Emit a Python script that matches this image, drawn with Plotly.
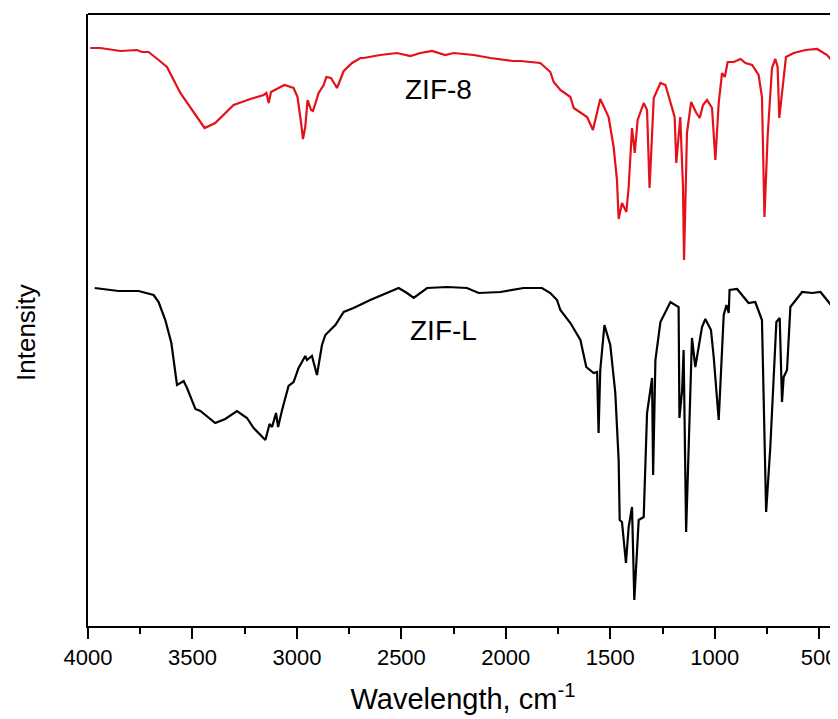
import plotly.graph_objects as go

# ZIF-8 (red) spectrum: wavenumber (cm-1) and intensity (a.u.)
zif8_wn = [3989, 3941, 3845, 3765, 3742, 3710, 3662, 3622, 3558, 3494, 3442, 3391, 3351, 3303, 3263, 3223,
           3159, 3146, 3135, 3124, 3088, 3060, 3016, 2997, 2980, 2971, 2960, 2949, 2932, 2923, 2896, 2872,
           2859, 2837, 2808, 2776, 2736, 2696, 2681, 2601, 2521, 2457, 2409, 2353, 2290, 2250, 2154, 2074,
           1963, 1930, 1835, 1811, 1787, 1771, 1739, 1691, 1675, 1611, 1583, 1548, 1508, 1484, 1468, 1460,
           1444, 1423, 1412, 1396, 1383, 1369, 1340, 1324, 1312, 1292, 1260, 1236, 1200, 1192, 1184, 1165,
           1152, 1147, 1141, 1133, 1113, 1088, 1072, 1056, 1037, 1013, 997, 981, 965, 952, 938, 909,
           877, 853, 821, 790, 774, 762, 747, 726, 710, 699, 691, 678, 659, 622, 566, 510,
           462, 434, 427, 421, 414]
zif8_int = [578, 578, 575, 576, 574, 574, 566, 559, 533, 513, 498, 503, 511, 521, 524, 527,
            531, 533, 523, 534, 538, 541, 538, 529, 503, 487, 499, 526, 516, 515, 533, 541,
            549, 548, 538, 555, 563, 568, 568, 571, 573, 570, 573, 575, 571, 573, 571, 568,
            565, 565, 563, 558, 554, 544, 536, 529, 518, 509, 496, 527, 509, 479, 446, 407,
            423, 414, 439, 498, 473, 506, 523, 516, 438, 528, 543, 541, 513, 509, 463, 509,
            439, 366, 419, 493, 524, 513, 508, 521, 526, 518, 466, 523, 553, 549, 564, 564,
            567, 563, 561, 551, 529, 409, 489, 558, 567, 559, 508, 533, 569, 573, 576, 577,
            571, 564, 496, 431, 560]

# ZIF-L (black) spectrum
zifl_wn = [3968, 3854, 3758, 3718, 3686, 3662, 3630, 3601, 3585, 3574, 3542, 3526, 3486, 3462, 3391, 3343,
           3287, 3239, 3207, 3151, 3131, 3119, 3100, 3090, 3071, 3040, 3016, 2992, 2960, 2952, 2928, 2904,
           2880, 2864, 2840, 2816, 2776, 2729, 2649, 2593, 2513, 2473, 2441, 2377, 2281, 2186, 2130, 2026,
           1915, 1827, 1787, 1755, 1739, 1691, 1643, 1615, 1580, 1563, 1556, 1548, 1528, 1500, 1476, 1460,
           1455, 1444, 1425, 1412, 1396, 1385, 1364, 1340, 1324, 1300, 1295, 1284, 1260, 1212, 1173, 1169,
           1156, 1149, 1137, 1109, 1093, 1061, 1045, 1018, 1005, 981, 957, 944, 933, 929, 893, 838,
           806, 774, 754, 734, 705, 689, 678, 670, 654, 638, 582, 534, 494, 455, 426, 414]
zifl_int = [338, 335, 335, 333, 331, 324, 306, 283, 256, 241, 245, 238, 217, 215, 203, 207,
            215, 208, 198, 186, 202, 199, 213, 199, 216, 240, 244, 258, 270, 266, 270, 251,
            281, 291, 296, 301, 314, 318, 326, 331, 338, 333, 328, 338, 339, 338, 333, 334,
            338, 338, 333, 326, 316, 303, 286, 259, 253, 254, 193, 256, 301, 281, 233, 166,
            106, 104, 63, 99, 119, 26, 106, 109, 213, 248, 151, 266, 304, 324, 319, 208,
            236, 276, 94, 288, 259, 299, 307, 296, 269, 206, 311, 321, 313, 336, 337, 323,
            324, 306, 114, 179, 304, 308, 224, 249, 256, 319, 334, 333, 334, 324, 316, 136]

x_ticks = [4000, 3500, 3000, 2500, 2000, 1500, 1000, 500]
labels = ["ZIF-8", "ZIF-L"]
label_pos = [(2324, 537), (2298, 296)]

FONT = "Arial, Liberation Sans, sans-serif"

fig = go.Figure()
fig.add_trace(go.Scatter(x=zif8_wn, y=zif8_int, mode="lines",
                         line=dict(color="#e5101a", width=2.2), showlegend=False))
fig.add_trace(go.Scatter(x=zifl_wn, y=zifl_int, mode="lines",
                         line=dict(color="#000000", width=2.2), showlegend=False))

for txt, (lx, ly) in zip(labels, label_pos):
    fig.add_annotation(x=lx, y=ly, text=txt, showarrow=False,
                       font=dict(family=FONT, size=28, color="#000"))

fig.add_annotation(xref="paper", yref="paper", x=-0.083, y=0.48, xanchor="center", yanchor="middle",
                   text="Intensity", textangle=-90, showarrow=False,
                   font=dict(family=FONT, size=26, color="#000"))

fig.add_shape(type="line", xref="paper", yref="paper", x0=0, x1=1, y0=1, y1=1,
              line=dict(color="#000", width=2))

# page body has an 8px default margin, so the figure is sized 8px smaller
fig.update_layout(
    width=830, height=711,
    margin=dict(l=80, r=0, t=6, b=93),
    paper_bgcolor="white", plot_bgcolor="white",
    font=dict(family=FONT, color="#000"),
    xaxis=dict(range=[4000, 410], tickvals=x_ticks, ticks="outside", ticklen=11, tickwidth=2,
               tickcolor="#000", showline=True, linecolor="#000", linewidth=2,
               showgrid=False, zeroline=False, tickfont=dict(size=22, family=FONT),
               minor=dict(dtick=250, tick0=4000, ticks="outside", ticklen=6, tickwidth=2,
                          tickcolor="#000", showgrid=False),
               title=dict(text="Wavelength, cm<sup>-1</sup>", font=dict(size=29, family=FONT),
                          standoff=19)),
    yaxis=dict(range=[0, 612], showticklabels=False, ticks="", showline=True,
               linecolor="#000", linewidth=2, showgrid=False, zeroline=False),
)

fig.write_html("out.html")
